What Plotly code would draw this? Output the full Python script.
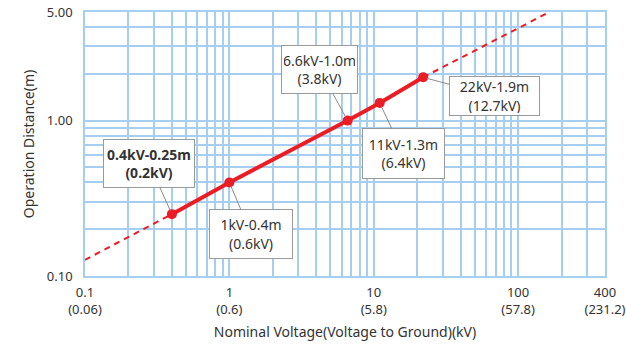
import math
import plotly.graph_objects as go

# Data
kv_points = [0.4, 1, 6.6, 11, 22]
dist_points = [0.25, 0.4, 1.0, 1.3, 1.9]
ext_low_kv = [0.1, 0.4]
ext_low_dist = [0.127, 0.25]
ext_high_kv = [22, 165]
ext_high_dist = [1.9, 5.0]

point_labels = [
    "<b>0.4kV-0.25m<br>(0.2kV)</b>",
    "1kV-0.4m<br>(0.6kV)",
    "6.6kV-1.0m<br>(3.8kV)",
    "11kV-1.3m<br>(6.4kV)",
    "22kV-1.9m<br>(12.7kV)",
]
label_ax = [-23, 22, -28, 24, 71]
label_ay = [-51, 52, -51, 51, 19]
label_w = [86, 78, 71, 77, 85]
label_h = [43, 44, 43, 45, 34]

x_grid = [0.1, 0.2, 0.3, 0.4, 0.5, 0.6, 0.7, 0.8, 0.9,
          1, 2, 3, 4, 5, 6, 7, 8, 9,
          10, 20, 30, 40, 50, 60, 70, 80, 90,
          100, 200, 300, 400]
x_labels = {0.1: "0.1<br>(0.06)", 1: "1<br>(0.6)", 10: "10<br>(5.8)",
            100: "100<br>(57.8)", 400: "400<br>(231.2)"}
y_grid = [0.1, 0.2, 0.3, 0.4, 0.5, 0.6, 0.7, 0.8, 0.9, 1, 2, 3, 4, 5]
y_labels = {0.1: "0.10", 1: "1.00", 5: "5.00"}

RED = "#ec1c24"
GRID = "#a6cef0"
TXT = "#333333"
FONT = "Noto Sans"

fig = go.Figure()
fig.add_trace(go.Scatter(x=ext_low_kv, y=ext_low_dist, mode="lines",
                         line=dict(color=RED, width=2, dash="6px,5px"),
                         showlegend=False, hoverinfo="skip"))
fig.add_trace(go.Scatter(x=ext_high_kv, y=ext_high_dist, mode="lines",
                         line=dict(color=RED, width=2, dash="6px,5px"),
                         showlegend=False, hoverinfo="skip"))
fig.add_trace(go.Scatter(x=kv_points, y=dist_points, mode="lines+markers",
                         line=dict(color=RED, width=4),
                         marker=dict(color=RED, size=10),
                         showlegend=False))

for x, y, t, ax, ay, w, h in zip(kv_points, dist_points, point_labels,
                                 label_ax, label_ay, label_w, label_h):
    fig.add_annotation(x=math.log10(x), y=math.log10(y), xref="x", yref="y",
                       text=t, showarrow=True, arrowhead=0, arrowwidth=1,
                       arrowcolor="#8a8a8a", ax=ax, ay=ay, standoff=4,
                       bgcolor="white", bordercolor="#9a9a9a", borderwidth=1,
                       borderpad=2, width=w, height=h,
                       font=dict(family=FONT, size=14, color=TXT))

fig.update_xaxes(type="log", range=[-1, math.log10(400)], automargin=False,
                 tickmode="array", tickvals=x_grid,
                 ticktext=[x_labels.get(v, "") for v in x_grid],
                 showgrid=True, gridcolor=GRID, gridwidth=1.5,
                 showline=True, linecolor=GRID, linewidth=1.5, mirror=True,
                 zeroline=False, ticks="", ticklabelstandoff=4,
                 tickfont=dict(family=FONT, size=13, color=TXT),
                 title=dict(text="Nominal Voltage(Voltage to Ground)(kV)",
                            font=dict(family=FONT, size=14, color=TXT),
                            standoff=10))
fig.update_yaxes(type="log", range=[-1, math.log10(5)], automargin=False,
                 tickmode="array", tickvals=y_grid,
                 ticktext=[y_labels.get(v, "") for v in y_grid],
                 showgrid=True, gridcolor=GRID, gridwidth=1.5,
                 showline=True, linecolor=GRID, linewidth=1.5, mirror=True,
                 zeroline=False, ticks="", ticklabelstandoff=8,
                 tickfont=dict(family=FONT, size=13, color=TXT),
                 title=dict(text="Operation Distance(m)",
                            font=dict(family=FONT, size=14, color=TXT),
                            standoff=9))

fig.update_layout(width=626, height=345,
                  margin=dict(l=85, r=21, t=12, b=69, autoexpand=False),
                  paper_bgcolor="white", plot_bgcolor="white",
                  font=dict(family=FONT, color=TXT))

fig.write_html("out.html", config={"displayModeBar": False},
               post_script="document.body.style.margin='0';document.body.style.overflow='hidden';")
